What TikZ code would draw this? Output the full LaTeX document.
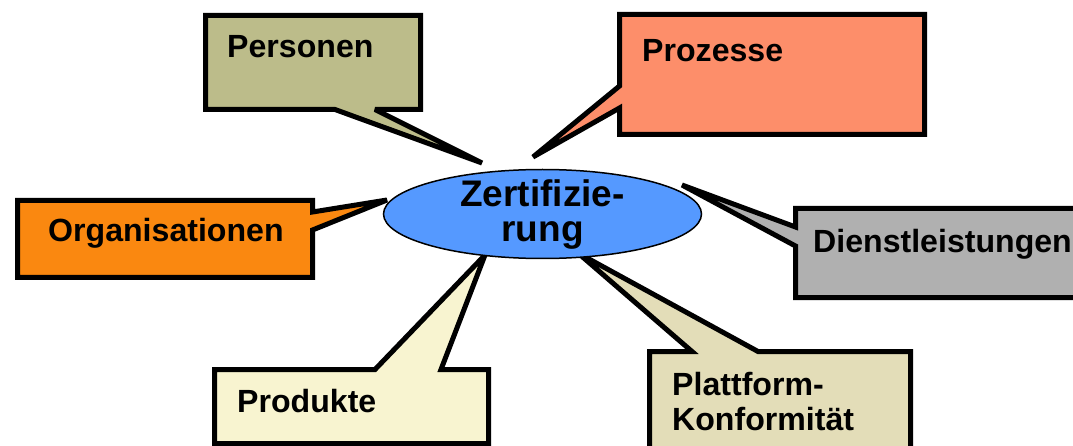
\documentclass[tikz,border=0pt]{standalone}
\usepackage{fontspec}
\setmainfont{Liberation Sans}
\usetikzlibrary{shapes.geometric}
\definecolor{cPers}{RGB}{188,188,138}
\definecolor{cProz}{RGB}{253,142,106}
\definecolor{cOrg}{RGB}{250,136,16}
\definecolor{cDienst}{RGB}{176,176,176}
\definecolor{cProd}{RGB}{248,244,208}
\definecolor{cPlatt}{RGB}{227,221,184}
\definecolor{cEll}{RGB}{85,153,255}
\tikzset{
  callout/.style={draw=black, line width=5pt, line join=miter, miter limit=4},
  lbl/.style={anchor=base west, inner sep=0pt, font=\bfseries\fontsize{32.1}{35}\selectfont},
  ctext/.style={anchor=base, inner sep=0pt, font=\bfseries\fontsize{37}{35}\selectfont},
}
\begin{document}
\begin{tikzpicture}[x=1pt,y=-1pt]
\useasboundingbox (0,0) rectangle (1073,446);
\clip (0,0) rectangle (1073,446);
% callouts
\filldraw[callout, fill=cPers] (205.5,15.5) -- (420.5,15.5) -- (420.5,109.5) -- (375,109.5) -- (482,163) -- (335,109.5) -- (205.5,109.5) -- cycle;
\filldraw[callout, fill=cProz] (619.5,14.5) -- (924.5,14.5) -- (924.5,134.5) -- (619.5,134.5) -- (619.5,108) -- (533,157) -- (619.5,86) -- cycle;
\filldraw[callout, fill=cOrg] (17.5,200.5) -- (312.5,200.5) -- (312.5,212) -- (387,200) -- (312.5,230) -- (312.5,277.5) -- (17.5,277.5) -- cycle;
\filldraw[callout, fill=cDienst] (795.5,208.5) -- (1085,208.5) -- (1085,297.5) -- (795.5,297.5) -- (795.5,246) -- (682,185) -- (795.5,227) -- cycle;
\filldraw[callout, fill=cProd] (214.5,369.5) -- (375,369.5) -- (485,255) -- (441,369.5) -- (488.5,369.5) -- (488.5,443.5) -- (214.5,443.5) -- cycle;
\filldraw[callout, fill=cPlatt] (649.5,351.5) -- (692,351.5) -- (578,253) -- (758,351.5) -- (910.5,351.5) -- (910.5,470) -- (649.5,470) -- cycle;
% central ellipse
\node[ellipse, draw=black, line width=1.5pt, fill=cEll, minimum width=318pt, minimum height=89pt, inner sep=0pt] (zert) at (542.5,214) {};
\node[ctext] (z1) at (542.5,207) {Zertifizie-};
\node[ctext] (z2) at (542.5,242) {rung};
% labels
\node[lbl] (pers) at (227,58) {Personen};
\node[lbl] (proz) at (642,62) {Prozesse};
\node[lbl] (org) at (48,242) {Organisationen};
\node[lbl] (dienst) at (813,253) {Dienstleistungen};
\node[lbl] (prod) at (237,412) {Produkte};
\node[lbl] (platt1) at (672,395) {Plattform-};
\node[lbl] (platt2) at (672,430) {Konformität};
\end{tikzpicture}
\end{document}
